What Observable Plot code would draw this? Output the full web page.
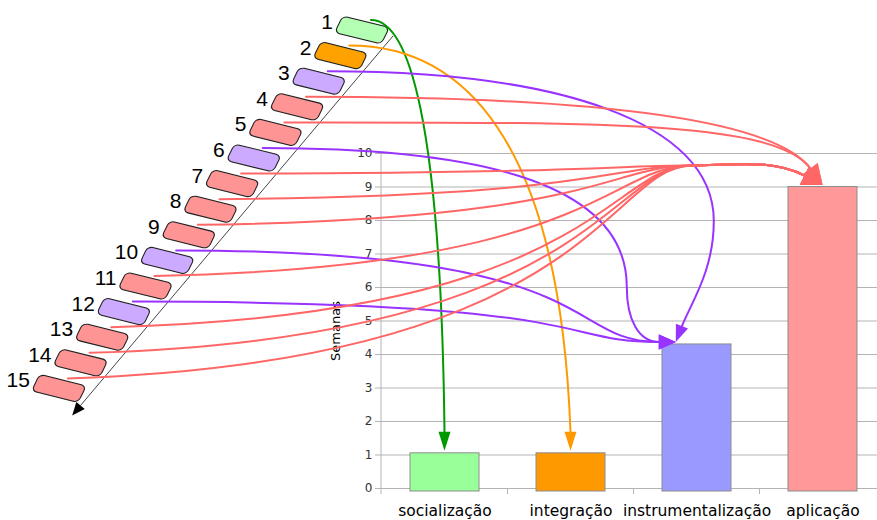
<!DOCTYPE html>
<html>
<head>
<meta charset="utf-8">
<script src="https://cdn.jsdelivr.net/npm/d3@7"></script>
<script src="https://cdn.jsdelivr.net/npm/@observablehq/plot@0.6"></script>
<style>
  html, body { margin: 0; padding: 0; background: #fff; }
</style>
</head>
<body>
<div id="chart"></div>
<script>
// ---- data ----
const categories = ["socialização", "integração", "instrumentalização", "aplicação"];
const weeks = [1.05, 1.05, 4.3, 9.0];
const weekTicks = [0, 1, 2, 3, 4, 5, 6, 7, 8, 9, 10];
const yLabel = "Semanas";
const itemNumbers = [1, 2, 3, 4, 5, 6, 7, 8, 9, 10, 11, 12, 13, 14, 15];
const itemCategory = [
  "socialização", "integração", "instrumentalização", "aplicação", "aplicação",
  "instrumentalização", "aplicação", "aplicação", "aplicação", "instrumentalização",
  "aplicação", "instrumentalização", "aplicação", "aplicação", "aplicação"
];

// ---- styles ----
const barColors = ["#99ff99", "#ff9900", "#9999ff", "#ff9999"];
const boxColors = ["#b3ffb3", "#ffa200", "#ccaaff", "#ff9494"];
const linkColors = ["#009900", "#ff9900", "#9933ff", "#ff6666"];

const bars = categories.map((c, i) => ({category: c, weeks: weeks[i], fill: barColors[i]}));

// vector helpers
const add = (a, b) => [a[0] + b[0], a[1] + b[1]];
const mul = (a, s) => [a[0] * s, a[1] * s];
const norm = (a) => { const l = Math.hypot(a[0], a[1]); return [a[0] / l, a[1] / l]; };

function diagram(index, scales, values, dim) {
  const sx = scales.x, sy = scales.y;
  const bw = typeof sx.bandwidth === "function" ? sx.bandwidth() : sx.bandwidth;
  const step = typeof sx.step === "function" ? sx.step() : (typeof sx.step === "number" ? sx.step : bw / 0.55);
  const left = dim.marginLeft, bottom = dim.height - dim.marginBottom;
  const g = d3.create("svg:g");

  // y axis line and category separator ticks
  g.append("line").attr("x1", left).attr("x2", left).attr("y1", dim.marginTop).attr("y2", bottom + 6)
    .attr("stroke", "#b3b3b3");
  categories.slice(1).forEach(c => {
    const x = sx(c) - (step - bw) / 2;
    g.append("line").attr("x1", x).attr("x2", x).attr("y1", bottom).attr("y2", bottom + 6).attr("stroke", "#b3b3b3");
  });

  // list layout
  const L = {x: 362, y: 30, dx: -21.65, dy: 25.6, w: 48, h: 18};
  const center = k => [L.x + L.dx * k, L.y + L.dy * k];

  // diagonal arrow
  const a0 = [L.x + 31, L.y + 6];
  const dirList = norm([L.dx, L.dy]);
  const a1 = add(a0, mul([L.dx, L.dy], 14.82));
  const aBase = add(a1, mul(dirList, -13));
  g.append("line").attr("x1", a0[0]).attr("y1", a0[1]).attr("x2", aBase[0]).attr("y2", aBase[1])
    .attr("stroke", "#444").attr("stroke-width", 1);
  arrowHead(g, a1, dirList, 13, 5.5, "#000");

  // boxes and numbers
  itemNumbers.forEach((n, k) => {
    const [cx, cy] = center(k);
    const ci = categories.indexOf(itemCategory[k]);
    g.append("rect").attr("x", -L.w / 2).attr("y", -L.h / 2).attr("width", L.w).attr("height", L.h)
      .attr("rx", 5).attr("ry", 5)
      .attr("transform", `translate(${cx},${cy}) rotate(14) skewX(-12)`)
      .attr("fill", boxColors[ci]).attr("stroke", "#222").attr("stroke-width", 1.1);
    g.append("text").attr("x", cx - 29).attr("y", cy - 1).attr("text-anchor", "end")
      .attr("font-size", 21).attr("font-family", "'Liberation Sans', Arial, sans-serif").attr("fill", "#000")
      .text(n);
  });

  // links
  const rank = {};
  const heads = [];
  itemNumbers.forEach((n, k) => {
    const cat = itemCategory[k];
    const ci = categories.indexOf(cat);
    const r = rank[cat] = (rank[cat] === undefined ? 0 : rank[cat] + 1);
    const [cx, cy] = center(k);
    const S = [cx + 9, cy - 10];
    const T = [sx(cat) + bw / 2 - (ci === 2 ? 0.3 * bw : 0), sy(weeks[ci]) - 2];
    const p = d3.path();
    p.moveTo(S[0], S[1]);
    const cub = (c1, c2, e) => p.bezierCurveTo(c1[0], c1[1], c2[0], c2[1], e[0], e[1]);
    let d, len, wid;
    if (ci === 0 || ci === 1) {
      d = [0, 1]; len = 19; wid = 6;
      const B = add(T, mul(d, -len));
      const dx = B[0] - S[0], dy = B[1] - S[1];
      cub([S[0] + 0.5 * dx, S[1]], [B[0] - 0.05 * dx, S[1] + 0.23 * dy], B);
    } else if (ci === 2) {
      if (r === 0) {
        d = norm([-7, 18]); len = 17; wid = 6.5;
        const B = add(T, mul(d, -len));
        const P = [T[0] + 38, T[1] - 121];
        cub([S[0] + 0.59 * (P[0] - S[0]), S[1]], [P[0], P[1] - 100], P);
        cub([P[0], P[1] + 50], add(B, mul(d, -25)), B);
      } else if (r === 1) {
        d = [1, 0]; len = 17; wid = 7.5;
        const B = add(T, mul(d, -len));
        const V = [B[0] - 32, B[1] - 55];
        cub([S[0] + 0.55 * (V[0] - S[0]), S[1]], [V[0], V[1] - 110], V);
        cub([V[0], V[1] + 33], [B[0] - 20, B[1]], B);
      } else {
        d = [1, 0]; len = 17; wid = 7.5;
        const B = add(T, mul(d, -len));
        const dx = B[0] - S[0];
        cub([S[0] + 0.9 * dx, S[1]], [B[0] - 0.2 * dx, B[1]], B);
      }
    } else {
      if (r < 2) {
        d = norm([0.6, 0.8]); len = 20; wid = 9;
        const B = add(T, mul(d, -len));
        cub([S[0] + 0.6 * (B[0] - S[0]), S[1]], add(B, mul(d, -60)), B);
      } else {
        d = norm([0.9, 0.45]); len = 20; wid = 10;
        const B = add(T, mul(d, -len));
        const J = [T[0] - 130, T[1] - 19];
        cub([J[0] - 95, S[1] - 0.08 * (S[1] - J[1])], [J[0] - 85, J[1]], J);
        cub([J[0] + 50, J[1] - 1], add(B, mul(d, -35)), B);
      }
    }
    g.append("path").attr("d", p.toString()).attr("fill", "none")
      .attr("stroke", linkColors[ci]).attr("stroke-width", 2).attr("stroke-linecap", "round");
    heads.push([T, d, len, wid, linkColors[ci]]);
  });
  heads.forEach(([T, d, len, wid, col]) => arrowHead(g, T, d, len, wid, col));
  return g.node();
}

function arrowHead(g, tip, d, len, wid, color) {
  const n = [-d[1], d[0]];
  const base = add(tip, mul(d, -len));
  const p1 = add(base, mul(n, wid)), p2 = add(base, mul(n, -wid));
  g.append("path").attr("d", `M${tip[0]},${tip[1]}L${p1[0]},${p1[1]}L${p2[0]},${p2[1]}Z`).attr("fill", color);
}

const chart = Plot.plot({
  width: 877,
  height: 520,
  marginTop: 153,
  marginBottom: 32,
  marginLeft: 381,
  marginRight: 0,
  style: {fontFamily: "'DejaVu Sans', sans-serif", background: "#fff", color: "#000"},
  x: {domain: categories, range: [381, 887], paddingInner: 0.45, paddingOuter: 0.225, align: 0.5},
  y: {domain: [0, 10]},
  color: {type: "identity"},
  marks: [
    Plot.gridY(weekTicks, {stroke: "#b3b3b3", strokeOpacity: 1}),
    Plot.barY(bars, {x: "category", y: "weeks", fill: "fill", stroke: "#8c8c8c", strokeWidth: 1, insetBottom: -3}),
    Plot.axisY(weekTicks, {tickSize: 6, tickPadding: 3, fontSize: 12, stroke: "#b3b3b3", color: "#333", label: null}),
    Plot.axisX({tickSize: 0, tickPadding: 16, fontSize: 15.5, color: "#000", label: null}),
    Plot.text([yLabel], {frameAnchor: "left", dx: -46, dy: 10, rotate: -90, fontSize: 13, textAnchor: "middle", lineAnchor: "middle", fill: "#000"}),
    diagram
  ]
});
document.getElementById("chart").appendChild(chart);
</script>
</body>
</html>
